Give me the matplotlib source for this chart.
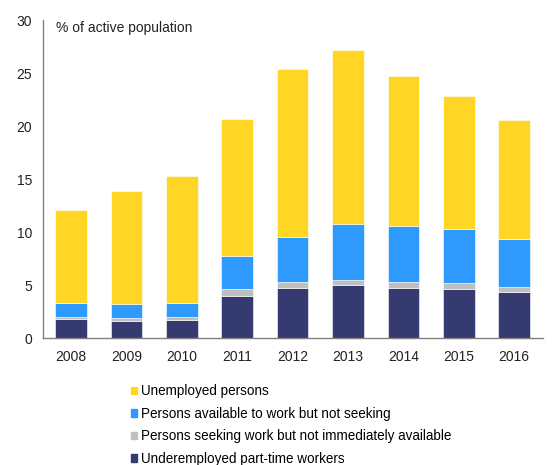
import matplotlib.pyplot as plt
from matplotlib.patches import Patch
import numpy as np

plt.rcParams['font.family'] = ['Liberation Sans', 'DejaVu Sans']

years = ["2008", "2009", "2010", "2011", "2012", "2013", "2014", "2015", "2016"]
underemployed = [1.76, 1.63, 1.73, 3.99, 4.75, 4.97, 4.75, 4.65, 4.34]
seeking_not_available = [0.22, 0.24, 0.25, 0.63, 0.53, 0.53, 0.53, 0.54, 0.47]
available_not_seeking = [1.29, 1.30, 1.29, 3.15, 4.28, 5.28, 5.29, 5.09, 4.53]
unemployed = [8.81, 10.70, 12.03, 12.93, 15.82, 16.39, 14.12, 12.58, 11.23]

series = [
    ("Underemployed part-time workers", underemployed, "#353a70"),
    ("Persons seeking work but not immediately available", seeking_not_available, "#bfbfbf"),
    ("Persons available to work but not seeking", available_not_seeking, "#2f9afe"),
    ("Unemployed persons", unemployed, "#ffd624"),
]

fig = plt.figure(figsize=(5.53, 4.65), dpi=100)
ax = fig.add_axes([43 / 553, 1 - 338 / 465, 500 / 553, 318 / 465])

x = np.arange(len(years))
bottom = np.zeros(len(years))
for name, vals, col in series:
    ax.bar(x, vals, width=0.57, bottom=bottom, color=col, label=name,
           edgecolor="white", linewidth=0.4)
    bottom += np.array(vals)

ax.set_xlim(-0.505, 8.52)
ax.set_ylim(0, 30)
ax.set_yticks(range(0, 31, 5))
ax.set_xticks(x)
ax.set_xticklabels(years)
ax.tick_params(length=0, labelsize=10, colors="#222222", pad=8)
ax.tick_params(axis="x", pad=8.5)
for s in ["top", "right"]:
    ax.spines[s].set_visible(False)
for s in ["left", "bottom"]:
    ax.spines[s].set_color("#808080")
    ax.spines[s].set_linewidth(1.0)

ax.text(0.026, 0.997, "% of active population", transform=ax.transAxes,
        fontsize=10, color="#222222", va="top", ha="left")

handles = [Patch(color=c) for _, _, c in series][::-1]
labels = [n for n, _, _ in series][::-1]
fig.legend(handles, labels, loc="upper left", bbox_to_anchor=(130.5 / 553, 1 - 384.3 / 465),
           frameon=False, fontsize=9.75, handlelength=0.5, handleheight=0.5,
           handletextpad=0.25, labelspacing=0.63, borderaxespad=0, borderpad=0)

fig.savefig("out.png", dpi=100)
